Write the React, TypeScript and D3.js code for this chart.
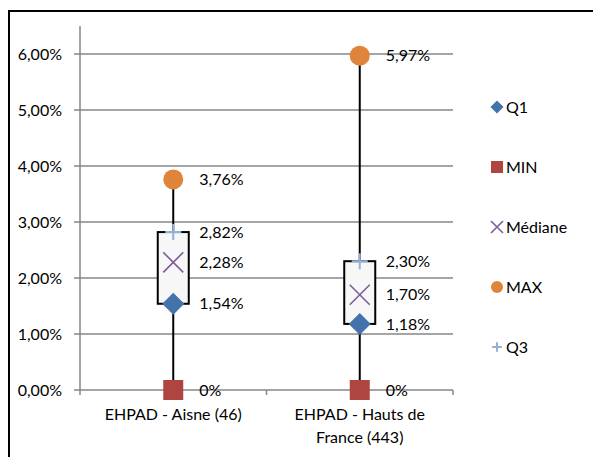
import React from "react";
import * as d3 from "d3";

const categories = ["EHPAD - Aisne (46)", "EHPAD - Hauts de France (443)"];
const categoryLines = [["EHPAD - Aisne (46)"], ["EHPAD - Hauts de", "France (443)"]];
const minValues = [0, 0];
const q1Values = [1.54, 1.18];
const medianValues = [2.28, 1.7];
const q3Values = [2.82, 2.3];
const maxValues = [3.76, 5.97];
const yTicks = [0, 1, 2, 3, 4, 5, 6];
const legendItems = ["Q1", "MIN", "Médiane", "MAX", "Q3"];

const COLORS: Record<string, string> = {
  Q1: "#4473ab",
  MIN: "#ae4540",
  "Médiane": "#7d5d9b",
  MAX: "#df843b",
  Q3: "#94b0d8",
};

const fmtPct = (v: number) => v.toFixed(2).replace(".", ",") + "%";
const fmtLabel = (v: number) => (v === 0 ? "0%" : v.toFixed(2).replace(".", ",") + "%");

function Marker({ kind, x, y, s = 1 }: { kind: string; x: number; y: number; s?: number }) {
  const c = COLORS[kind];
  if (kind === "Q1") {
    const r = 11 * s;
    return <path d={`M${x},${y - r}L${x + r},${y}L${x},${y + r}L${x - r},${y}Z`} fill={c} />;
  }
  if (kind === "MIN") {
    const h = 10 * s;
    return <rect x={x - h} y={y - h} width={2 * h} height={2 * h} fill={c} />;
  }
  if (kind === "MAX") {
    return <circle cx={x} cy={y} r={10 * s} fill={c} />;
  }
  if (kind === "Médiane") {
    const h = 10 * s;
    return (
      <path d={`M${x - h},${y - h}L${x + h},${y + h}M${x - h},${y + h}L${x + h},${y - h}`} stroke={c} strokeWidth={1.6} fill="none" />
    );
  }
  const h = 8 * s;
  return <path d={`M${x - h},${y}L${x + h},${y}M${x},${y - h}L${x},${y + h}`} stroke={c} strokeWidth={2} fill="none" />;
}

export default function App() {
  const W = 593, H = 457;
  const left = 80, right = 453, top = 26, bottom = 390;
  const y = d3.scaleLinear().domain([0, 6.5]).range([bottom, top]);
  const x = d3.scaleBand().domain(categories).range([left, right]);
  const font = "Lato, 'Open Sans', sans-serif";
  const fs = 16;
  const boxW = 31;

  return (
    <svg width={W} height={H} style={{ position: "absolute", left: 0, top: 0 }} fontFamily={font}>
      <rect x={0} y={0} width={W} height={H} fill="#fff" />
      <path d={`M9,${H + 5}L9,11L${W + 5},11`} stroke="#000" strokeWidth={2} fill="none" />
      {yTicks.map((t) => (
        <g key={t}>
          <line x1={left - 6} x2={right} y1={y(t)} y2={y(t)} stroke="#878787" strokeWidth={1.5} />
          <text x={62} y={y(t)} dy="0.35em" textAnchor="end" fontSize={fs} fill="#000">
            {fmtPct(t)}
          </text>
        </g>
      ))}
      <line x1={left} x2={left} y1={top} y2={bottom} stroke="#878787" strokeWidth={1.5} />
      {[left, left + x.bandwidth(), right].map((tx, i) => (
        <line key={i} x1={tx} x2={tx} y1={bottom} y2={bottom + 5} stroke="#878787" strokeWidth={1.5} />
      ))}
      {categories.map((c, i) => {
        const cx = (x(c) as number) + x.bandwidth() / 2;
        const lx = cx + 26;
        return (
          <g key={c}>
            <line x1={cx} x2={cx} y1={y(minValues[i])} y2={y(maxValues[i])} stroke="#000" strokeWidth={2} />
            <rect
              x={cx - boxW / 2}
              y={y(q3Values[i])}
              width={boxW}
              height={y(q1Values[i]) - y(q3Values[i])}
              fill="#f7f7f7"
              stroke="#000"
              strokeWidth={2}
            />
            <Marker kind="MIN" x={cx} y={y(minValues[i])} />
            <Marker kind="Q1" x={cx} y={y(q1Values[i])} />
            <Marker kind="Médiane" x={cx} y={y(medianValues[i])} />
            <Marker kind="Q3" x={cx} y={y(q3Values[i])} />
            <Marker kind="MAX" x={cx} y={y(maxValues[i])} />
            {[
              [minValues[i], 0],
              [q1Values[i], 1],
              [medianValues[i], 2],
              [q3Values[i], 3],
              [maxValues[i], 4],
            ].map(([v, k]) => (
              <text key={k} x={lx} y={y(v)} dy="0.35em" fontSize={fs} fill="#000">
                {fmtLabel(v)}
              </text>
            ))}
            {categoryLines[i].map((ln, j) => (
              <text key={j} x={cx} y={414 + j * 23} dy="0.35em" textAnchor="middle" fontSize={fs} fill="#000">
                {ln}
              </text>
            ))}
          </g>
        );
      })}
      {legendItems.map((k, i) => {
        const ly = 107 + i * 60;
        return (
          <g key={k}>
            <Marker kind={k} x={497} y={ly} s={0.6} />
            <text x={506} y={ly} dy="0.35em" fontSize={fs} fill="#000">
              {k}
            </text>
          </g>
        );
      })}
    </svg>
  );
}
